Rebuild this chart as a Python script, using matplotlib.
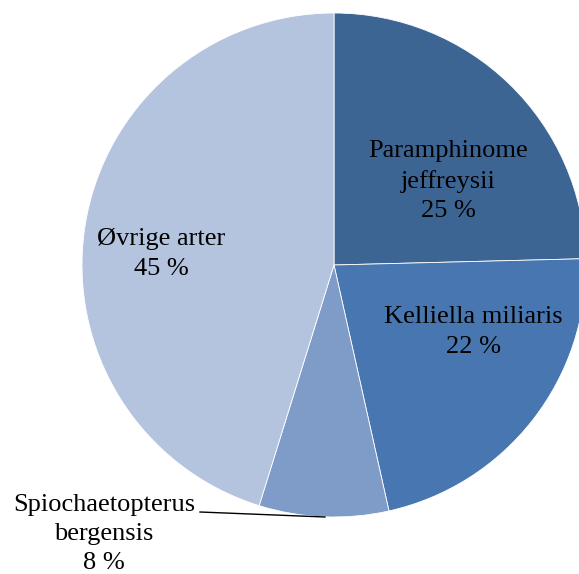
import matplotlib
matplotlib.use("Agg")
import matplotlib.pyplot as plt

labels = ["Paramphinome\njeffreysii", "Kelliella miliaris", "Spiochaetopterus\nbergensis", "Øvrige arter"]
values = [24.6, 21.9, 8.3, 45.2]
pct_labels = ["25 %", "22 %", "8 %", "45 %"]
colors = ["#3D6594", "#4776B0", "#7F9BC7", "#B4C3DE"]

plt.rcParams['font.family'] = ['Liberation Serif', 'DejaVu Serif']

fig = plt.figure(figsize=(5.79, 5.74), dpi=100)
ax = fig.add_axes([0, 0, 1, 1])

cx, cy, r = 334, 309, 252
ax.pie(values, colors=colors, startangle=90, counterclock=False, center=(cx, cy),
       radius=r, frame=True, wedgeprops=dict(linewidth=0.6, edgecolor="white"))
ax.set_xlim(0, 579)
ax.set_ylim(0, 574)
ax.set_axis_off()

fs = 19
pos = [(448, 393), (473, 242), (104, 40), (161, 320)]
for (x, y), lab, p in zip(pos, labels, pct_labels):
    ax.text(x, y, lab + "\n" + p, ha="center", va="center", fontsize=fs,
            linespacing=1.42, color="black")

ax.plot([200, 325], [62, 57], color="black", lw=1)

fig.savefig("out.png", dpi=100)
